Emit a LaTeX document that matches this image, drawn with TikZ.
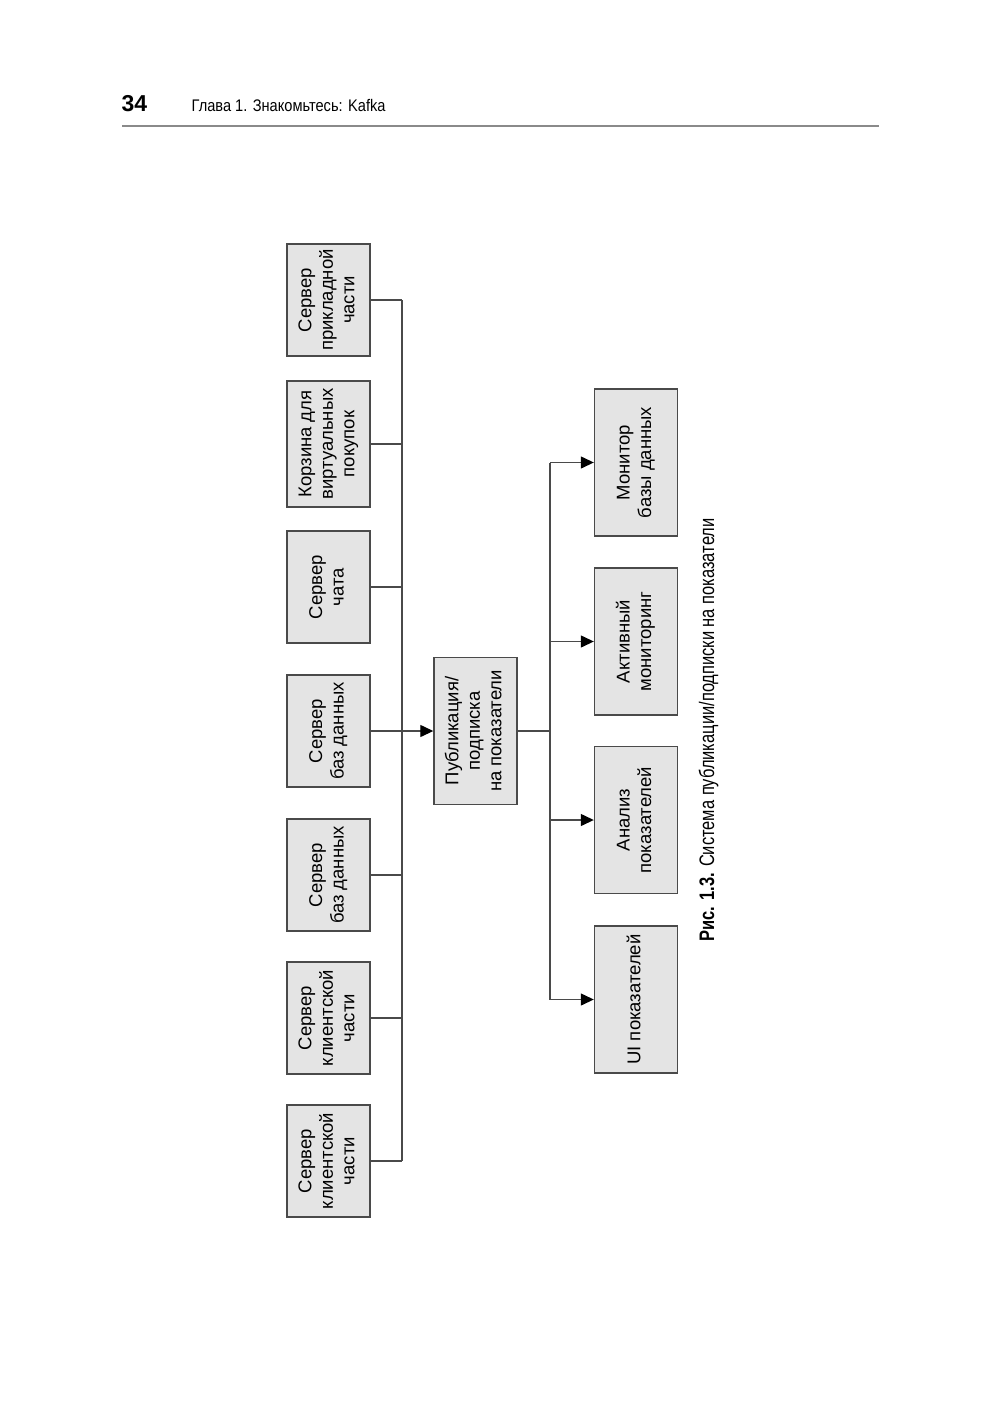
\documentclass[tikz,border=0pt]{standalone}
\usepackage{fontspec}
\usepackage{graphicx}
\setmainfont{Liberation Sans}
\newfontfamily\hdrfont[FakeStretch=0.87]{Liberation Sans}
\newfontfamily\capfont[FakeStretch=0.785]{Liberation Sans}
\usetikzlibrary{arrows.meta}
\definecolor{boxfill}{HTML}{E4E4E4}
\definecolor{boxline}{HTML}{4A4A4A}
\definecolor{ruleline}{HTML}{8A8A8A}
\newcommand{\rt}[1]{\rotatebox{90}{\begin{tabular}{@{}c@{}}#1\end{tabular}}}
\begin{document}
\begin{tikzpicture}[x=1pt,y=-1pt,
  box/.style={draw=boxline, fill=boxfill, line width=1.4pt, minimum width=83pt,
    minimum height=112pt, inner sep=0pt, font=\fontsize{18.5}{21.5}\selectfont},
  tallbox/.style={box, minimum height=147pt},
  wire/.style={draw=boxline, line width=1.3pt},
  arr/.style={wire, -{Triangle[length=13pt,width=12pt,color=black]}}]
\useasboundingbox (0,0) rectangle (1000,1413);
% header
\node[anchor=base west, inner sep=0pt, font=\bfseries\fontsize{23}{23}\selectfont] (pg) at (121.5,111.7) {34};
\node[anchor=base west, inner sep=0pt, font=\hdrfont\fontsize{16.8}{16.8}\selectfont] (ttl) at (191.5,111.7) {Глава 1. Знакомьтесь: Kafka};
\coordinate (rl) at (122,125.5);
\coordinate (rr) at (879,125.5);
\draw[ruleline, line width=2pt] (rl) -- (rr);
% left boxes
\node[box] (l1) at (328.5,300) {\rt{Сервер\\прикладной\\части}};
\node[box, minimum height=126pt] (l2) at (328.5,444) {\rt{Корзина для\\виртуальных\\покупок}};
\node[box] (l3) at (328.5,587) {\rt{Сервер\\чата}};
\node[box] (l4) at (328.5,731) {\rt{Сервер\\баз данных}};
\node[box] (l5) at (328.5,875) {\rt{Сервер\\баз данных}};
\node[box] (l6) at (328.5,1018) {\rt{Сервер\\клиентской\\части}};
\node[box] (l7) at (328.5,1161) {\rt{Сервер\\клиентской\\части}};
% center
\node[tallbox] (c) at (475.5,731) {\rt{Публикация/\\подписка\\на показатели}};
% right boxes
\node[tallbox] (r1) at (636,462.5) {\rt{Монитор\\базы данных}};
\node[tallbox] (r2) at (636,641.5) {\rt{Активный\\мониторинг}};
\node[tallbox] (r3) at (636,820) {\rt{Анализ\\показателей}};
\node[tallbox] (r4) at (636,999.5) {\rt{UI показателей}};
% buses
\coordinate (lb) at (402,0);
\coordinate (rb) at (550,0);
\draw[wire] (l1.east -| lb) -- (l7.east -| lb);
\foreach \n in {l1,l2,l3,l5,l6,l7} \draw[wire] (\n.east) -- (\n.east -| lb);
\draw[arr] (l4.east) -- (c.west);
\draw[wire] (c.east) -- (c.east -| rb);
\draw[wire] (r1.west -| rb) -- (r4.west -| rb);
\foreach \n in {r1,r2,r3,r4} \draw[arr] (\n.west -| rb) -- (\n.west);
% caption
\node[rotate=90, inner sep=0pt, font=\capfont\fontsize{21}{21}\selectfont] (cap) at (708.5,730) {\textbf{Рис. 1.3.} Система публикации/подписки на показатели};
\end{tikzpicture}
\end{document}
